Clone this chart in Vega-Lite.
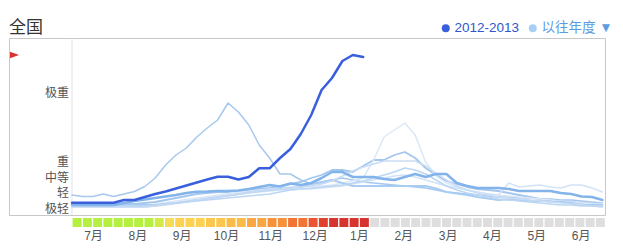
{
"$schema": "https://vega.github.io/schema/vega-lite/v6.json",
"autosize": {"type": "pad"},
"padding": {"left": 8, "top": 18, "right": 10, "bottom": 4},
"background": "white",
"title": {"text": "全国", "anchor": "start", "frame": "group", "fontSize": 17, "font": "Noto Sans CJK SC", "fontWeight": "normal", "color": "#333333", "offset": -16},
"config": {"view": {"stroke": null}, "font": "Liberation Sans"},
"spacing": 2,
"resolve": {"scale": {"x": "independent", "fill": "independent"}},
"datasets": {
"cur": [
{"season":"2012-2013","week":0,"level":12.3},{"season":"2012-2013","week":1,"level":12.3},{"season":"2012-2013","week":2,"level":12.3},{"season":"2012-2013","week":3,"level":12.3},{"season":"2012-2013","week":4,"level":12.3},{"season":"2012-2013","week":5,"level":15},{"season":"2012-2013","week":6,"level":15},{"season":"2012-2013","week":7,"level":18},{"season":"2012-2013","week":8,"level":21},{"season":"2012-2013","week":9,"level":23.5},{"season":"2012-2013","week":10,"level":26.5},{"season":"2012-2013","week":11,"level":29.5},{"season":"2012-2013","week":12,"level":32.5},{"season":"2012-2013","week":13,"level":35.5},{"season":"2012-2013","week":14,"level":38.3},{"season":"2012-2013","week":15,"level":38.3},{"season":"2012-2013","week":16,"level":35.5},{"season":"2012-2013","week":17,"level":38},{"season":"2012-2013","week":18,"level":46.7},{"season":"2012-2013","week":19,"level":46.7},{"season":"2012-2013","week":20,"level":57},{"season":"2012-2013","week":21,"level":66},{"season":"2012-2013","week":22,"level":81},{"season":"2012-2013","week":23,"level":100},{"season":"2012-2013","week":24,"level":125},{"season":"2012-2013","week":25,"level":137},{"season":"2012-2013","week":26,"level":154},{"season":"2012-2013","week":27,"level":160},{"season":"2012-2013","week":28,"level":158}
],
"prev": [
{"season":"2009-2010","week":0,"level":20},{"season":"2009-2010","week":1,"level":18.5},{"season":"2009-2010","week":2,"level":18.5},{"season":"2009-2010","week":3,"level":21},{"season":"2009-2010","week":4,"level":18.5},{"season":"2009-2010","week":5,"level":21},{"season":"2009-2010","week":6,"level":23.5},{"season":"2009-2010","week":7,"level":28.5},{"season":"2009-2010","week":8,"level":37},{"season":"2009-2010","week":9,"level":50},{"season":"2009-2010","week":10,"level":60},{"season":"2009-2010","week":11,"level":67},{"season":"2009-2010","week":12,"level":78},{"season":"2009-2010","week":13,"level":87},{"season":"2009-2010","week":14,"level":95},{"season":"2009-2010","week":15,"level":112},{"season":"2009-2010","week":16,"level":103},{"season":"2009-2010","week":17,"level":90},{"season":"2009-2010","week":18,"level":70},{"season":"2009-2010","week":19,"level":57},{"season":"2009-2010","week":20,"level":41},{"season":"2009-2010","week":21,"level":41},{"season":"2009-2010","week":22,"level":35},{"season":"2009-2010","week":23,"level":31},{"season":"2009-2010","week":24,"level":32},{"season":"2009-2010","week":25,"level":35},{"season":"2009-2010","week":26,"level":37},{"season":"2009-2010","week":27,"level":35},{"season":"2009-2010","week":28,"level":33},{"season":"2009-2010","week":29,"level":32},{"season":"2009-2010","week":30,"level":31},{"season":"2009-2010","week":31,"level":30},{"season":"2009-2010","week":32,"level":29},{"season":"2009-2010","week":33,"level":28},{"season":"2009-2010","week":34,"level":27},{"season":"2009-2010","week":35,"level":25},{"season":"2009-2010","week":36,"level":23},{"season":"2009-2010","week":37,"level":22},{"season":"2009-2010","week":38,"level":21},{"season":"2009-2010","week":39,"level":20},{"season":"2009-2010","week":40,"level":19},{"season":"2009-2010","week":41,"level":18},{"season":"2009-2010","week":42,"level":18},{"season":"2009-2010","week":43,"level":17},{"season":"2009-2010","week":44,"level":17},{"season":"2009-2010","week":45,"level":16},{"season":"2009-2010","week":46,"level":16},{"season":"2009-2010","week":47,"level":15},{"season":"2009-2010","week":48,"level":15},{"season":"2009-2010","week":49,"level":14},{"season":"2009-2010","week":50,"level":13},{"season":"2009-2010","week":51,"level":12},
{"season":"2010-2011","week":0,"level":11},{"season":"2010-2011","week":1,"level":11},{"season":"2010-2011","week":2,"level":11},{"season":"2010-2011","week":3,"level":11},{"season":"2010-2011","week":4,"level":11},{"season":"2010-2011","week":5,"level":11},{"season":"2010-2011","week":6,"level":11},{"season":"2010-2011","week":7,"level":12},{"season":"2010-2011","week":8,"level":13},{"season":"2010-2011","week":9,"level":15},{"season":"2010-2011","week":10,"level":17},{"season":"2010-2011","week":11,"level":19},{"season":"2010-2011","week":12,"level":21},{"season":"2010-2011","week":13,"level":22},{"season":"2010-2011","week":14,"level":23},{"season":"2010-2011","week":15,"level":23},{"season":"2010-2011","week":16,"level":24},{"season":"2010-2011","week":17,"level":25},{"season":"2010-2011","week":18,"level":26},{"season":"2010-2011","week":19,"level":27},{"season":"2010-2011","week":20,"level":29},{"season":"2010-2011","week":21,"level":31},{"season":"2010-2011","week":22,"level":33},{"season":"2010-2011","week":23,"level":37},{"season":"2010-2011","week":24,"level":40},{"season":"2010-2011","week":25,"level":45},{"season":"2010-2011","week":26,"level":45},{"season":"2010-2011","week":27,"level":43},{"season":"2010-2011","week":28,"level":49},{"season":"2010-2011","week":29,"level":55},{"season":"2010-2011","week":30,"level":55},{"season":"2010-2011","week":31,"level":60},{"season":"2010-2011","week":32,"level":63},{"season":"2010-2011","week":33,"level":57},{"season":"2010-2011","week":34,"level":47},{"season":"2010-2011","week":35,"level":40},{"season":"2010-2011","week":36,"level":34},{"season":"2010-2011","week":37,"level":31},{"season":"2010-2011","week":38,"level":28},{"season":"2010-2011","week":39,"level":26},{"season":"2010-2011","week":40,"level":25},{"season":"2010-2011","week":41,"level":24},{"season":"2010-2011","week":42,"level":22},{"season":"2010-2011","week":43,"level":20},{"season":"2010-2011","week":44,"level":18},{"season":"2010-2011","week":45,"level":16},{"season":"2010-2011","week":46,"level":15},{"season":"2010-2011","week":47,"level":14},{"season":"2010-2011","week":48,"level":13},{"season":"2010-2011","week":49,"level":12},{"season":"2010-2011","week":50,"level":11},{"season":"2010-2011","week":51,"level":10},
{"season":"2007-2008","week":0,"level":9},{"season":"2007-2008","week":1,"level":9},{"season":"2007-2008","week":2,"level":9},{"season":"2007-2008","week":3,"level":9},{"season":"2007-2008","week":4,"level":9},{"season":"2007-2008","week":5,"level":9},{"season":"2007-2008","week":6,"level":9},{"season":"2007-2008","week":7,"level":10},{"season":"2007-2008","week":8,"level":11},{"season":"2007-2008","week":9,"level":12.5},{"season":"2007-2008","week":10,"level":14},{"season":"2007-2008","week":11,"level":15.5},{"season":"2007-2008","week":12,"level":17},{"season":"2007-2008","week":13,"level":18.5},{"season":"2007-2008","week":14,"level":20},{"season":"2007-2008","week":15,"level":21.5},{"season":"2007-2008","week":16,"level":23},{"season":"2007-2008","week":17,"level":24},{"season":"2007-2008","week":18,"level":25},{"season":"2007-2008","week":19,"level":26},{"season":"2007-2008","week":20,"level":27},{"season":"2007-2008","week":21,"level":28},{"season":"2007-2008","week":22,"level":28},{"season":"2007-2008","week":23,"level":29},{"season":"2007-2008","week":24,"level":29},{"season":"2007-2008","week":25,"level":30},{"season":"2007-2008","week":26,"level":32},{"season":"2007-2008","week":27,"level":34},{"season":"2007-2008","week":28,"level":37},{"season":"2007-2008","week":29,"level":55},{"season":"2007-2008","week":30,"level":78},{"season":"2007-2008","week":31,"level":85},{"season":"2007-2008","week":32,"level":92},{"season":"2007-2008","week":33,"level":80},{"season":"2007-2008","week":34,"level":53},{"season":"2007-2008","week":35,"level":39},{"season":"2007-2008","week":36,"level":32},{"season":"2007-2008","week":37,"level":28},{"season":"2007-2008","week":38,"level":25},{"season":"2007-2008","week":39,"level":23},{"season":"2007-2008","week":40,"level":21},{"season":"2007-2008","week":41,"level":20},{"season":"2007-2008","week":42,"level":19},{"season":"2007-2008","week":43,"level":18},{"season":"2007-2008","week":44,"level":17},{"season":"2007-2008","week":45,"level":16},{"season":"2007-2008","week":46,"level":15},{"season":"2007-2008","week":47,"level":14},{"season":"2007-2008","week":48,"level":13},{"season":"2007-2008","week":49,"level":12},{"season":"2007-2008","week":50,"level":11},{"season":"2007-2008","week":51,"level":11},
{"season":"2005-2006","week":0,"level":8},{"season":"2005-2006","week":1,"level":8},{"season":"2005-2006","week":2,"level":8},{"season":"2005-2006","week":3,"level":8},{"season":"2005-2006","week":4,"level":8},{"season":"2005-2006","week":5,"level":8},{"season":"2005-2006","week":6,"level":8},{"season":"2005-2006","week":7,"level":8},{"season":"2005-2006","week":8,"level":9},{"season":"2005-2006","week":9,"level":10},{"season":"2005-2006","week":10,"level":11.5},{"season":"2005-2006","week":11,"level":13},{"season":"2005-2006","week":12,"level":14.5},{"season":"2005-2006","week":13,"level":16},{"season":"2005-2006","week":14,"level":17.5},{"season":"2005-2006","week":15,"level":19},{"season":"2005-2006","week":16,"level":20.5},{"season":"2005-2006","week":17,"level":22},{"season":"2005-2006","week":18,"level":23},{"season":"2005-2006","week":19,"level":24},{"season":"2005-2006","week":20,"level":25},{"season":"2005-2006","week":21,"level":25},{"season":"2005-2006","week":22,"level":26},{"season":"2005-2006","week":23,"level":26},{"season":"2005-2006","week":24,"level":27},{"season":"2005-2006","week":25,"level":28},{"season":"2005-2006","week":26,"level":29},{"season":"2005-2006","week":27,"level":31},{"season":"2005-2006","week":28,"level":33},{"season":"2005-2006","week":29,"level":35},{"season":"2005-2006","week":30,"level":37},{"season":"2005-2006","week":31,"level":39},{"season":"2005-2006","week":32,"level":40},{"season":"2005-2006","week":33,"level":38},{"season":"2005-2006","week":34,"level":35},{"season":"2005-2006","week":35,"level":32},{"season":"2005-2006","week":36,"level":29},{"season":"2005-2006","week":37,"level":27},{"season":"2005-2006","week":38,"level":25},{"season":"2005-2006","week":39,"level":23},{"season":"2005-2006","week":40,"level":21},{"season":"2005-2006","week":41,"level":20},{"season":"2005-2006","week":42,"level":32},{"season":"2005-2006","week":43,"level":28},{"season":"2005-2006","week":44,"level":29},{"season":"2005-2006","week":45,"level":30},{"season":"2005-2006","week":46,"level":28},{"season":"2005-2006","week":47,"level":27},{"season":"2005-2006","week":48,"level":30},{"season":"2005-2006","week":49,"level":30},{"season":"2005-2006","week":50,"level":27},{"season":"2005-2006","week":51,"level":23},
{"season":"2008-2009","week":0,"level":10},{"season":"2008-2009","week":1,"level":10},{"season":"2008-2009","week":2,"level":10},{"season":"2008-2009","week":3,"level":10},{"season":"2008-2009","week":4,"level":10},{"season":"2008-2009","week":5,"level":10},{"season":"2008-2009","week":6,"level":10},{"season":"2008-2009","week":7,"level":10},{"season":"2008-2009","week":8,"level":10},{"season":"2008-2009","week":9,"level":11},{"season":"2008-2009","week":10,"level":12},{"season":"2008-2009","week":11,"level":13.5},{"season":"2008-2009","week":12,"level":15},{"season":"2008-2009","week":13,"level":16.5},{"season":"2008-2009","week":14,"level":18},{"season":"2008-2009","week":15,"level":19.5},{"season":"2008-2009","week":16,"level":21},{"season":"2008-2009","week":17,"level":22.5},{"season":"2008-2009","week":18,"level":24},{"season":"2008-2009","week":19,"level":25},{"season":"2008-2009","week":20,"level":26},{"season":"2008-2009","week":21,"level":27},{"season":"2008-2009","week":22,"level":28},{"season":"2008-2009","week":23,"level":31},{"season":"2008-2009","week":24,"level":33},{"season":"2008-2009","week":25,"level":35},{"season":"2008-2009","week":26,"level":32},{"season":"2008-2009","week":27,"level":29},{"season":"2008-2009","week":28,"level":29},{"season":"2008-2009","week":29,"level":29},{"season":"2008-2009","week":30,"level":29},{"season":"2008-2009","week":31,"level":29},{"season":"2008-2009","week":32,"level":29},{"season":"2008-2009","week":33,"level":29},{"season":"2008-2009","week":34,"level":29},{"season":"2008-2009","week":35,"level":26.5},{"season":"2008-2009","week":36,"level":23},{"season":"2008-2009","week":37,"level":21.5},{"season":"2008-2009","week":38,"level":20},{"season":"2008-2009","week":39,"level":18},{"season":"2008-2009","week":40,"level":16.5},{"season":"2008-2009","week":41,"level":15},{"season":"2008-2009","week":42,"level":15.7},{"season":"2008-2009","week":43,"level":15},{"season":"2008-2009","week":44,"level":14.3},{"season":"2008-2009","week":45,"level":14},{"season":"2008-2009","week":46,"level":13.5},{"season":"2008-2009","week":47,"level":13.3},{"season":"2008-2009","week":48,"level":12},{"season":"2008-2009","week":49,"level":10},{"season":"2008-2009","week":50,"level":10},{"season":"2008-2009","week":51,"level":10},
{"season":"2006-2007","week":0,"level":8},{"season":"2006-2007","week":1,"level":8},{"season":"2006-2007","week":2,"level":8},{"season":"2006-2007","week":3,"level":8},{"season":"2006-2007","week":4,"level":8},{"season":"2006-2007","week":5,"level":8},{"season":"2006-2007","week":6,"level":8},{"season":"2006-2007","week":7,"level":8},{"season":"2006-2007","week":8,"level":9},{"season":"2006-2007","week":9,"level":10.5},{"season":"2006-2007","week":10,"level":12},{"season":"2006-2007","week":11,"level":13.5},{"season":"2006-2007","week":12,"level":15},{"season":"2006-2007","week":13,"level":16.5},{"season":"2006-2007","week":14,"level":18},{"season":"2006-2007","week":15,"level":19.5},{"season":"2006-2007","week":16,"level":21},{"season":"2006-2007","week":17,"level":22.5},{"season":"2006-2007","week":18,"level":24},{"season":"2006-2007","week":19,"level":25},{"season":"2006-2007","week":20,"level":26},{"season":"2006-2007","week":21,"level":27},{"season":"2006-2007","week":22,"level":28},{"season":"2006-2007","week":23,"level":29},{"season":"2006-2007","week":24,"level":31},{"season":"2006-2007","week":25,"level":34},{"season":"2006-2007","week":26,"level":39},{"season":"2006-2007","week":27,"level":44},{"season":"2006-2007","week":28,"level":48},{"season":"2006-2007","week":29,"level":51},{"season":"2006-2007","week":30,"level":54},{"season":"2006-2007","week":31,"level":54},{"season":"2006-2007","week":32,"level":54},{"season":"2006-2007","week":33,"level":54},{"season":"2006-2007","week":34,"level":49},{"season":"2006-2007","week":35,"level":42},{"season":"2006-2007","week":36,"level":35},{"season":"2006-2007","week":37,"level":29},{"season":"2006-2007","week":38,"level":25},{"season":"2006-2007","week":39,"level":22},{"season":"2006-2007","week":40,"level":20},{"season":"2006-2007","week":41,"level":18},{"season":"2006-2007","week":42,"level":17},{"season":"2006-2007","week":43,"level":16},{"season":"2006-2007","week":44,"level":15},{"season":"2006-2007","week":45,"level":14},{"season":"2006-2007","week":46,"level":13},{"season":"2006-2007","week":47,"level":12},{"season":"2006-2007","week":48,"level":11},{"season":"2006-2007","week":49,"level":10},{"season":"2006-2007","week":50,"level":9},{"season":"2006-2007","week":51,"level":9},
{"season":"2004-2005","week":0,"level":9},{"season":"2004-2005","week":1,"level":9},{"season":"2004-2005","week":2,"level":9},{"season":"2004-2005","week":3,"level":9},{"season":"2004-2005","week":4,"level":9},{"season":"2004-2005","week":5,"level":9},{"season":"2004-2005","week":6,"level":9},{"season":"2004-2005","week":7,"level":9},{"season":"2004-2005","week":8,"level":10},{"season":"2004-2005","week":9,"level":11},{"season":"2004-2005","week":10,"level":12},{"season":"2004-2005","week":11,"level":13},{"season":"2004-2005","week":12,"level":14},{"season":"2004-2005","week":13,"level":15},{"season":"2004-2005","week":14,"level":16},{"season":"2004-2005","week":15,"level":17},{"season":"2004-2005","week":16,"level":18},{"season":"2004-2005","week":17,"level":19},{"season":"2004-2005","week":18,"level":20},{"season":"2004-2005","week":19,"level":21},{"season":"2004-2005","week":20,"level":23},{"season":"2004-2005","week":21,"level":25},{"season":"2004-2005","week":22,"level":26},{"season":"2004-2005","week":23,"level":27},{"season":"2004-2005","week":24,"level":28},{"season":"2004-2005","week":25,"level":29},{"season":"2004-2005","week":26,"level":30},{"season":"2004-2005","week":27,"level":32},{"season":"2004-2005","week":28,"level":34},{"season":"2004-2005","week":29,"level":37},{"season":"2004-2005","week":30,"level":40},{"season":"2004-2005","week":31,"level":43},{"season":"2004-2005","week":32,"level":47},{"season":"2004-2005","week":33,"level":45},{"season":"2004-2005","week":34,"level":41},{"season":"2004-2005","week":35,"level":35},{"season":"2004-2005","week":36,"level":29},{"season":"2004-2005","week":37,"level":25},{"season":"2004-2005","week":38,"level":22},{"season":"2004-2005","week":39,"level":20},{"season":"2004-2005","week":40,"level":18},{"season":"2004-2005","week":41,"level":16},{"season":"2004-2005","week":42,"level":15},{"season":"2004-2005","week":43,"level":14},{"season":"2004-2005","week":44,"level":13},{"season":"2004-2005","week":45,"level":12},{"season":"2004-2005","week":46,"level":11},{"season":"2004-2005","week":47,"level":10},{"season":"2004-2005","week":48,"level":10},{"season":"2004-2005","week":49,"level":9},{"season":"2004-2005","week":50,"level":9},{"season":"2004-2005","week":51,"level":8},
{"season":"2011-2012","week":0,"level":10},{"season":"2011-2012","week":1,"level":10},{"season":"2011-2012","week":2,"level":10},{"season":"2011-2012","week":3,"level":10},{"season":"2011-2012","week":4,"level":10},{"season":"2011-2012","week":5,"level":12},{"season":"2011-2012","week":6,"level":14},{"season":"2011-2012","week":7,"level":15.5},{"season":"2011-2012","week":8,"level":17},{"season":"2011-2012","week":9,"level":18.5},{"season":"2011-2012","week":10,"level":20},{"season":"2011-2012","week":11,"level":22},{"season":"2011-2012","week":12,"level":23.3},{"season":"2011-2012","week":13,"level":23.5},{"season":"2011-2012","week":14,"level":24},{"season":"2011-2012","week":15,"level":24},{"season":"2011-2012","week":16,"level":24.5},{"season":"2011-2012","week":17,"level":26},{"season":"2011-2012","week":18,"level":28},{"season":"2011-2012","week":19,"level":30},{"season":"2011-2012","week":20,"level":28.5},{"season":"2011-2012","week":21,"level":31.5},{"season":"2011-2012","week":22,"level":30},{"season":"2011-2012","week":23,"level":32},{"season":"2011-2012","week":24,"level":37},{"season":"2011-2012","week":25,"level":43},{"season":"2011-2012","week":26,"level":43},{"season":"2011-2012","week":27,"level":38},{"season":"2011-2012","week":28,"level":38},{"season":"2011-2012","week":29,"level":38},{"season":"2011-2012","week":30,"level":36},{"season":"2011-2012","week":31,"level":35},{"season":"2011-2012","week":32,"level":38},{"season":"2011-2012","week":33,"level":41},{"season":"2011-2012","week":34,"level":38},{"season":"2011-2012","week":35,"level":41},{"season":"2011-2012","week":36,"level":41},{"season":"2011-2012","week":37,"level":32},{"season":"2011-2012","week":38,"level":29},{"season":"2011-2012","week":39,"level":27},{"season":"2011-2012","week":40,"level":27},{"season":"2011-2012","week":41,"level":27},{"season":"2011-2012","week":42,"level":26},{"season":"2011-2012","week":43,"level":24},{"season":"2011-2012","week":44,"level":24},{"season":"2011-2012","week":45,"level":24},{"season":"2011-2012","week":46,"level":24},{"season":"2011-2012","week":47,"level":22},{"season":"2011-2012","week":48,"level":21},{"season":"2011-2012","week":49,"level":18.5},{"season":"2011-2012","week":50,"level":18},{"season":"2011-2012","week":51,"level":15}
],
"levels": [
{"label":"极轻","level":5.8},{"label":"轻","level":22},{"label":"中等","level":37.5},{"label":"重","level":52.8},{"label":"极重","level":122.3}
],
"flag": [{"label":"current","level":160}],
"edge": [{"week":0}],
"legendItems": [{"s":"2012-2013"},{"s":"以往年度"}],
"strip": [
{"week":0,"grade":1},{"week":1,"grade":1},{"week":2,"grade":1},{"week":3,"grade":1},{"week":4,"grade":1},{"week":5,"grade":1},{"week":6,"grade":1},{"week":7,"grade":1},{"week":8,"grade":2},{"week":9,"grade":3},{"week":10,"grade":4},{"week":11,"grade":4},{"week":12,"grade":4},{"week":13,"grade":5},{"week":14,"grade":5},{"week":15,"grade":6},{"week":16,"grade":6},{"week":17,"grade":7},{"week":18,"grade":7},{"week":19,"grade":8},{"week":20,"grade":8},{"week":21,"grade":9},{"week":22,"grade":9},{"week":23,"grade":10},{"week":24,"grade":11},{"week":25,"grade":12},{"week":26,"grade":12},{"week":27,"grade":12},{"week":28,"grade":12},{"week":29,"grade":0},{"week":30,"grade":0},{"week":31,"grade":0},{"week":32,"grade":0},{"week":33,"grade":0},{"week":34,"grade":0},{"week":35,"grade":0},{"week":36,"grade":0},{"week":37,"grade":0},{"week":38,"grade":0},{"week":39,"grade":0},{"week":40,"grade":0},{"week":41,"grade":0},{"week":42,"grade":0},{"week":43,"grade":0},{"week":44,"grade":0},{"week":45,"grade":0},{"week":46,"grade":0},{"week":47,"grade":0},{"week":48,"grade":0},{"week":49,"grade":0},{"week":50,"grade":0},{"week":51,"grade":0}
]
},
"vconcat": [
{
"width": 596,
"height": 177,
"view": {"stroke": "#c8c8c8", "strokeWidth": 1},
"layer": [
{
"data": {"name": "edge"},
"mark": {"type": "rule", "color": "#e3e3e3", "strokeWidth": 1},
"encoding": {
"x": {"field": "week", "type": "quantitative", "scale": {"domain": [-6.06, 51.25], "nice": false, "zero": false}, "axis": null}
}
},
{
"data": {"name": "prev"},
"mark": {"type": "line", "strokeCap": "round", "strokeJoin": "round"},
"encoding": {
"x": {"field": "week", "type": "quantitative", "axis": null},
"y": {"field": "level", "type": "quantitative", "scale": {"domain": [0, 177], "nice": false, "zero": true}, "axis": null},
"detail": {"field": "season", "type": "nominal"},
"stroke": {"field": "season", "type": "nominal", "legend": null, "scale": {"domain": ["2004-2005","2005-2006","2006-2007","2007-2008","2008-2009","2009-2010","2010-2011","2011-2012"], "range": ["#bcd6f3","#d3e3f7","#c9dcf4","#dbe8f8","#a9ccf1","#a6c8ef","#a3c6ee","#82b3ea"]}},
"strokeWidth": {"field": "season", "type": "nominal", "legend": null, "scale": {"type": "ordinal", "domain": ["2004-2005","2005-2006","2006-2007","2007-2008","2008-2009","2009-2010","2010-2011","2011-2012"], "range": [1.5,1.5,1.5,1.5,2,1.5,1.8,2.5]}}
}
},
{
"data": {"name": "cur"},
"mark": {"type": "line", "color": "#3a5fdc", "strokeWidth": 2.5, "strokeCap": "round", "strokeJoin": "round"},
"encoding": {
"x": {"field": "week", "type": "quantitative", "axis": null},
"y": {"field": "level", "type": "quantitative", "axis": null}
}
},
{
"data": {"name": "levels"},
"mark": {"type": "text", "align": "right", "baseline": "middle", "fontSize": 12, "font": "Noto Sans CJK SC", "color": "#555555"},
"encoding": {
"x": {"datum": -0.3, "type": "quantitative"},
"y": {"field": "level", "type": "quantitative"},
"text": {"field": "label", "type": "nominal"}
}
},
{
"data": {"name": "flag"},
"mark": {"type": "point", "shape": "M-1,-0.72L1,0L-1,0.72Z", "filled": true, "color": "#d8332c", "size": 81, "opacity": 1, "strokeWidth": 0},
"encoding": {
"x": {"datum": -5.53, "type": "quantitative"},
"y": {"field": "level", "type": "quantitative"}
}
},
{
"data": {"name": "legendItems"},
"mark": {"type": "point", "filled": true, "opacity": 0},
"encoding": {
"fill": {"field": "s", "type": "nominal", "scale": {"domain": ["2012-2013","以往年度"], "range": ["#3a5fdc","#a9cff5"]},
"legend": {"orient": "none", "legendX": 430, "legendY": -17, "direction": "horizontal", "title": null, "symbolType": "circle", "symbolSize": 64, "symbolOpacity": 1, "symbolStrokeWidth": 0, "labelFontSize": 13.5, "labelFont": "Liberation Sans, Noto Sans CJK SC", "labelColor": {"expr": "datum.value == '2012-2013' ? '#2f56cc' : '#5b9be0'"}, "labelOffset": 2, "columnPadding": 6, "padding": 0, "labelExpr": "datum.label == '以往年度' ? '以往年度 ▼' : datum.label"}}
}
}
]
},
{
"width": 596,
"height": 9,
"data": {"name": "strip"},
"mark": {"type": "rect", "binSpacing": 1.3},
"encoding": {
"x": {"field": "week", "type": "quantitative", "bin": {"step": 1, "extent": [0, 52]}, "scale": {"domain": [-6.09, 52], "nice": false, "zero": false},
"axis": {"values": [2.1, 6.42, 10.74, 15.06, 19.38, 23.7, 28.02, 32.34, 36.66, 40.98, 45.3, 49.62], "labelExpr": "['7月','8月','9月','10月','11月','12月','1月','2月','3月','4月','5月','6月'][round((datum.value-2.1)/4.32)]", "domain": false, "ticks": false, "grid": false, "title": null, "labelPadding": 3, "labelFontSize": 12, "labelColor": "#555555", "labelFont": "Liberation Sans, Noto Sans CJK SC", "labelFlush": false, "labelOverlap": false}},
"fill": {"field": "grade", "type": "ordinal", "legend": null, "scale": {"domain": [0,1,2,3,4,5,6,7,8,9,10,11,12], "range": ["#dedede","#b5ef3f","#d3e948","#f6db57","#fdd253","#fcc74e","#fbbb49","#f9a743","#f6913c","#f27535","#ea5430","#e0412f","#d5342f"]}}
}
}
]
}
